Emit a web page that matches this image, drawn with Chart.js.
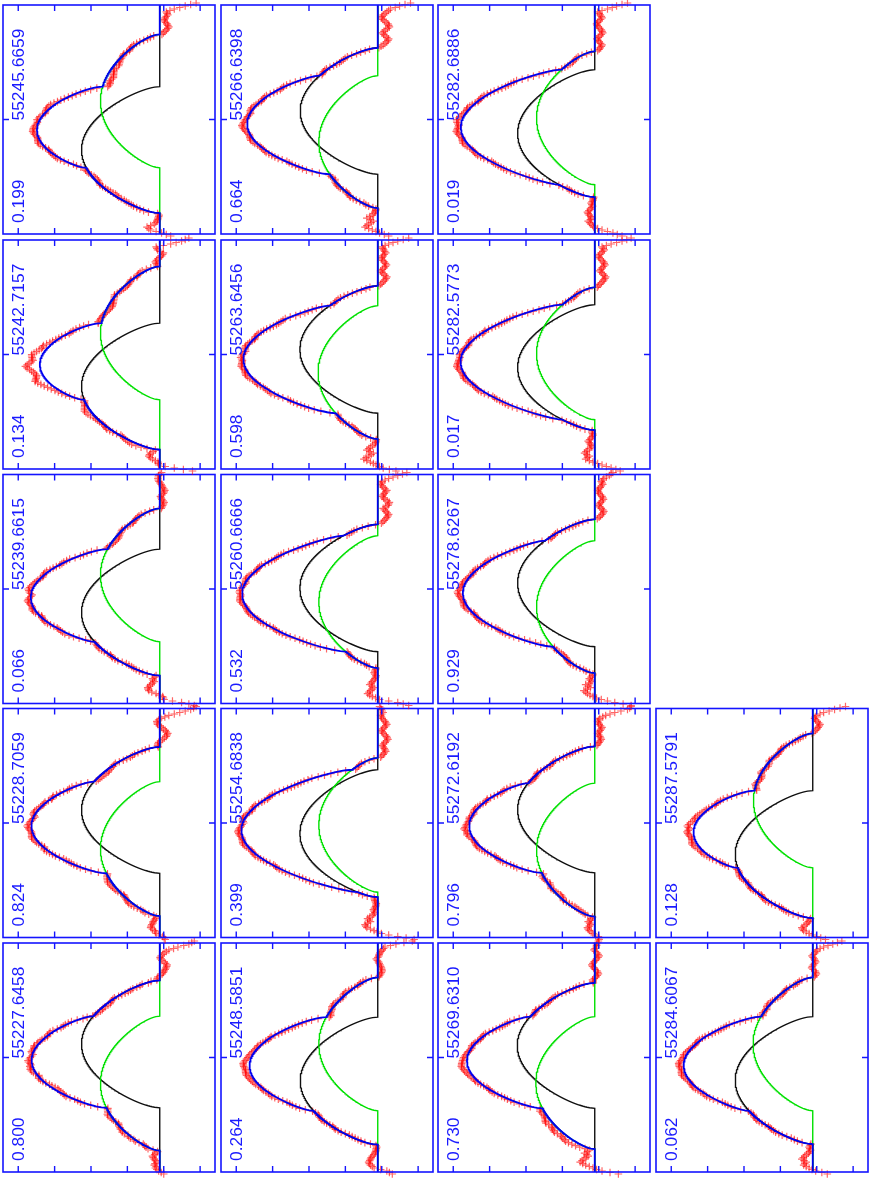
<!DOCTYPE html>
<html><head><meta charset="utf-8">
<script src="https://cdn.jsdelivr.net/npm/chart.js@4.4.0/dist/chart.umd.min.js"></script>
<style>
html,body{margin:0;padding:0;background:#fff;}
#wrap{position:relative;width:872px;height:1179px;overflow:hidden;background:#fff;}
canvas.pan{position:absolute;}
</style></head><body><div id="wrap"></div>
<script>
// ---- data (chronological order) ----
const phases = ["0.800","0.824","0.066","0.134","0.199","0.264","0.399","0.532","0.598","0.664","0.730","0.796","0.929","0.017","0.019","0.062","0.128"];
const dates = ["55227.6458","55228.7059","55239.6615","55242.7157","55245.6659","55248.5851","55254.6838","55260.6666","55263.6456","55266.6398","55269.6310","55272.6192","55278.6267","55282.5773","55282.6886","55284.6067","55287.5791"];
// primary (black) and secondary (green) component: centre velocity, half width (km/s), depth
const blackCenter = [27,26,-47,-64,-61,-47,-21,2,10,17,24,27,12,-26,-28,-46,-63];
const blackHalfWidth = [128,127,127,127,127,128,128,128,128,127,126,127,128,126,128,128,128];
const blackDepth = [0.215,0.215,0.215,0.215,0.215,0.213,0.214,0.214,0.214,0.213,0.213,0.212,0.212,0.212,0.212,0.213,0.213];
const greenCenter = [-52,-52,28,43,37,27,-4,-26,-36,-45,-51,-54,-36,2,3,27,45];
const greenHalfWidth = [135,135,134,134,134,134,135,133,134,133,133,134,133,133,134,134,135];
const greenDepth = [0.163,0.163,0.163,0.163,0.163,0.162,0.162,0.162,0.164,0.162,0.162,0.160,0.160,0.160,0.160,0.164,0.163];
const continuumLevel = 0.011;
const limbDarkening = 0.6;
// observed profile: velocity grid (km/s) and residuals from the fit (units of 0.001)
const obsVelocity = [-234,-231,-228,-225,-222,-219,-216,-213,-210,-207,-204,-201,-198,-195,-192,-189,-186,-183,-180,-177,-174,-171,-168,-165,-162,-159,-156,-153,-150,-147,-144,-141,-138,-135,-132,-129,-126,-123,-120,-117,-114,-111,-108,-105,-102,-99,-96,-93,-90,-87,-84,-81,-78,-75,-72,-69,-66,-63,-60,-57,-54,-51,-48,-45,-42,-39,-36,-33,-30,-27,-24,-21,-18,-15,-12,-9,-6,-3,0,3,6,9,12,15,18,21,24,27,30,33,36,39,42,45,48,51,54,57,60,63,66,69,72,75,78,81,84,87,90,93,96,99,102,105,108,111,114,117,120,123,126,129,132,135,138,141,144,147,150,153,156,159,162,165,168,171,174,177,180,183,186,189,192,195,198,201,204,207,210,213,216,219,222,225,228,231,234];
const obsResidual = [
[-11,-4,3,8,12,10,15,13,8,12,15,18,20,14,10,6,8,9,5,1,-3,2,6,4,8,7,4,9,10,5,6,3,2,-1,-4,0,3,5,6,9,8,4,2,0,-3,2,4,7,6,2,0,3,5,1,-4,-5,-8,-11,-10,-7,-6,-1,2,4,5,0,-3,3,6,9,10,7,8,4,5,9,10,6,4,1,-2,3,6,5,3,6,8,4,5,3,2,-1,-3,2,4,7,6,1,-2,0,3,4,5,0,-4,-1,2,-2,-4,-7,-8,-5,-6,-9,-10,-6,-3,0,2,-3,-5,-7,-8,-6,-4,-6,-5,0,-5,3,8,7,5,-2,-7,-10,-12,-15,-17,-19,-20,-16,-12,-6,-2,-1,-4,-8,-12,-18,-25,-38,-50,-66,-80,-88,-95],
[-15,-12,-8,2,10,12,14,20,25,24,22,19,18,15,12,9,6,7,8,5,4,7,10,11,12,9,6,4,2,-1,-3,1,5,7,8,9,10,11,12,10,8,6,4,1,-2,0,3,4,6,4,2,-1,-4,-5,-6,-2,2,3,5,7,8,2,-3,0,4,6,7,9,10,8,5,4,3,5,8,10,12,9,6,4,2,-1,-4,0,5,6,7,5,3,1,0,2,4,0,-3,1,6,4,2,0,-2,2,5,4,3,-1,-5,-7,-8,-9,-10,-11,-12,-9,-6,-5,-4,0,3,-1,-5,-7,-9,-6,-3,-3,-4,-1,2,4,6,5,3,-2,-8,-13,-18,-20,-22,-18,-15,-10,-5,1,6,7,8,3,-3,-14,-25,-40,-55,-70,-85,-93,-100],
[-95,-80,-60,-35,-12,-10,-8,2,10,22,30,32,33,28,25,20,15,18,20,14,10,8,6,4,2,-1,-4,-5,-6,-2,3,4,5,1,-2,1,4,6,8,6,5,3,2,0,-3,2,6,8,10,7,4,1,-2,0,3,5,6,4,2,-1,-4,0,5,7,8,5,3,4,6,8,10,7,4,0,-3,2,6,9,12,10,8,6,5,3,2,-1,-3,0,4,6,7,4,2,0,-2,0,3,4,5,0,-4,-1,2,4,6,4,3,-1,-5,-6,-8,-9,-10,-8,-6,-4,-3,0,2,-1,-4,-6,-8,-5,-3,0,2,4,5,2,-2,-3,-4,-6,-8,-10,-12,-9,-6,-4,-2,-6,-10,-12,-14,-11,-8,-6,-4,-1,2,4,5,4,3,-1,-5],
[-90,-65,-40,-15,3,4,5,12,20,26,30,28,25,18,12,14,15,17,18,14,10,7,4,0,-3,2,6,8,10,7,4,3,2,4,5,6,8,12,15,17,18,15,12,9,6,4,3,0,-2,1,4,6,8,10,12,16,20,24,28,32,35,30,25,21,18,20,22,26,30,36,40,35,30,24,20,23,25,28,30,26,22,18,15,16,18,14,10,8,5,3,2,-1,-4,0,3,5,6,7,8,9,10,7,5,3,2,0,-3,-5,-8,-10,-12,-11,-10,-8,-6,-4,-2,1,4,0,-3,-4,-6,-7,-8,-6,-4,-1,2,0,-3,1,6,8,10,7,5,6,8,10,12,9,5,0,-5,-8,-10,-2,6,8,10,-10,-30,-45,-60,-70,-80],
[-30,-18,-5,10,25,30,35,25,15,11,8,6,5,3,2,6,10,8,6,4,3,0,-2,-3,-5,-4,-4,-6,-8,-7,-6,-4,-3,0,2,-1,-4,-6,-7,-6,-5,-1,3,5,6,5,4,1,-2,2,5,7,8,6,4,3,2,0,-3,1,5,8,10,8,6,4,3,5,8,10,12,11,10,8,6,4,3,5,8,6,5,1,-2,1,4,7,10,11,12,9,6,4,2,-1,-3,-4,-6,-8,-10,-12,-14,-16,-18,-16,-15,-17,-20,-18,-16,-14,-12,-10,-8,-11,-14,-12,-10,-7,-5,-4,-3,0,2,-1,-4,0,3,5,6,4,2,-2,-5,-4,-3,-6,-10,-14,-18,-22,-25,-22,-20,-16,-12,-13,-15,-18,-22,-20,-18,-28,-40,-55,-70,-85,-100],
[-40,-32,-25,-8,10,15,20,23,25,22,20,18,15,11,8,6,5,4,3,5,6,4,2,-1,-3,-4,-5,-2,2,3,4,1,-2,0,3,4,5,3,2,-1,-3,0,4,5,6,4,3,0,-2,1,5,7,8,6,4,5,6,5,3,5,8,9,10,11,12,13,15,15,14,13,12,14,16,17,18,16,14,12,10,9,8,6,5,4,3,4,6,4,2,0,-2,0,3,-1,-4,-5,-6,-7,-8,-6,-5,-4,-3,-4,-6,-8,-10,-7,-4,-3,-2,1,4,5,6,4,2,-1,-3,1,5,7,8,5,3,0,-2,1,4,5,6,2,-3,-5,-8,-10,-12,-11,-10,-8,-6,-4,-2,1,4,0,-3,-4,-6,-9,-12,-16,-20,-35,-50,-72,-95],
[-100,-78,-55,-30,-10,2,10,20,30,33,35,28,20,24,28,22,15,11,8,10,12,9,6,5,4,6,8,9,10,8,6,4,2,-1,-3,0,4,5,7,5,3,0,-2,1,5,6,6,5,3,-1,-4,-1,2,3,5,6,8,6,4,2,1,3,6,8,9,7,5,4,3,5,7,8,10,8,6,4,2,0,-3,0,4,5,6,4,2,-1,-4,-1,3,4,5,1,-2,-3,-5,-2,2,3,4,0,-3,-5,-6,-5,-4,-1,2,3,5,1,-2,-4,-6,-7,-8,-6,-4,-1,2,0,-3,-5,-8,-11,-15,-18,-22,-20,-18,-15,-12,-16,-20,-24,-28,-26,-24,-20,-15,-12,-10,-14,-18,-22,-25,-22,-20,-16,-12,-10,-8,-11,-15,-12,-10,-8,-5],
[-85,-70,-55,-30,-5,6,15,22,28,24,20,15,10,16,22,18,15,11,8,6,5,8,10,8,6,5,4,1,-2,0,3,5,6,4,2,-1,-3,0,4,5,5,4,2,0,-2,0,3,5,6,5,4,0,-3,-1,2,4,5,4,3,5,6,7,8,6,5,3,2,4,6,8,10,8,7,5,4,6,8,7,6,4,3,0,-2,1,4,5,6,4,2,-1,-3,0,3,4,5,1,-2,-3,-4,-1,2,3,5,1,-3,-5,-6,-4,-2,0,3,0,-4,-6,-7,-5,-3,0,2,-2,-5,-8,-10,-14,-18,-22,-25,-28,-30,-26,-22,-18,-15,-22,-28,-30,-32,-26,-20,-16,-12,-15,-18,-22,-25,-20,-15,-12,-8,-10,-12,-20,-30,-42,-55,-68,-80],
[-50,-32,-15,-5,5,12,20,30,38,32,25,18,12,22,30,25,20,14,8,6,5,4,4,6,8,5,3,0,-2,-4,-5,-2,2,4,6,4,3,0,-3,1,5,7,8,6,4,3,2,0,-3,2,6,8,10,7,5,4,3,5,7,5,4,6,9,11,12,10,8,6,5,8,10,8,6,4,3,5,8,6,4,1,-2,0,3,5,6,4,2,-1,-4,-1,3,4,5,3,2,0,-3,-5,-6,-4,-2,1,4,0,-5,-7,-8,-5,-3,0,2,-1,-4,0,3,5,6,4,2,-2,-5,-7,-8,-5,-3,-8,-12,-16,-20,-23,-25,-20,-15,-11,-8,-13,-18,-21,-24,-21,-18,-14,-10,-12,-14,-18,-22,-19,-16,-14,-12,-20,-30,-42,-55,-70,-85],
[-30,-18,-5,5,15,25,35,30,25,18,12,20,30,22,15,11,8,6,5,3,2,0,-3,1,4,6,8,5,3,0,-2,2,5,6,6,4,3,0,-4,-1,2,4,6,8,9,7,5,3,2,0,-3,1,4,5,6,7,8,6,4,3,2,4,7,8,10,8,6,4,3,5,8,10,12,14,15,12,10,8,6,4,3,0,-2,1,4,5,6,4,2,0,-3,0,2,4,5,1,-2,-4,-5,-1,3,4,4,0,-3,-5,-6,-5,-4,-1,2,4,5,1,-3,-5,-6,-4,-2,1,3,0,-4,-5,-6,-4,-3,-9,-15,-20,-25,-28,-30,-25,-20,-16,-12,-17,-22,-27,-32,-30,-28,-23,-18,-14,-10,-12,-15,-20,-25,-30,-35,-48,-60,-75,-90],
[-65,-42,-20,-5,5,15,25,33,40,35,30,24,18,22,28,20,15,16,18,20,22,24,25,22,20,18,15,19,22,20,18,15,12,16,20,18,15,12,10,9,8,10,12,9,6,5,4,6,8,6,5,3,2,4,6,4,3,0,-2,1,4,6,8,6,5,8,10,11,12,14,15,17,18,16,15,13,12,11,10,8,6,4,3,0,-2,1,4,3,2,-1,-3,0,2,4,5,1,-2,-4,-6,-5,-3,0,4,3,2,-2,-5,-4,-2,1,4,0,-3,-5,-6,-4,-2,1,3,4,5,1,-2,-3,-4,-1,2,3,4,5,6,1,-4,-7,-10,-8,-6,-1,3,6,8,5,2,-2,-5,-9,-12,-9,-6,-2,2,-1,-4,-5,-5,-8,-10],
[-12,-11,-10,-2,5,10,15,18,20,15,10,14,18,12,8,6,4,0,-3,-5,-6,-7,-8,-6,-4,-1,2,-2,-5,-7,-8,-5,-3,0,3,0,-2,-4,-6,-2,2,4,5,1,-3,0,4,6,8,5,3,5,6,4,2,-1,-4,0,3,5,7,9,10,8,6,4,2,4,5,9,12,10,8,12,15,12,10,8,6,4,3,4,5,1,-2,1,4,5,6,4,2,-1,-3,0,4,1,-2,-4,-5,-1,3,5,6,4,2,-1,-3,-5,-6,-4,-2,1,4,0,-4,-6,-8,-5,-3,0,2,-2,-5,-6,-6,-4,-2,0,3,-2,-6,-9,-12,-15,-18,-16,-14,-11,-8,-12,-15,-18,-20,-16,-12,-10,-8,-11,-14,-22,-30,-42,-55,-72,-90,-96,-100],
[-100,-78,-55,-35,-18,-5,5,13,20,25,30,20,12,18,25,15,8,12,15,10,6,5,4,1,-2,0,3,5,6,4,2,-1,-4,-5,-6,-5,-3,0,2,-2,-5,-7,-8,-6,-4,0,3,5,6,4,2,-1,-3,1,4,6,8,7,5,4,3,0,-2,2,6,8,10,8,7,5,4,6,8,10,12,14,15,12,10,8,6,7,8,6,4,3,2,-1,-3,1,5,4,3,0,-2,1,4,5,6,4,2,-1,-3,-5,-6,-4,-2,1,3,0,-4,-6,-7,-5,-3,0,2,-2,-5,-7,-8,-6,-4,-3,-2,-7,-12,-16,-20,-23,-25,-22,-18,-14,-10,-13,-16,-20,-24,-22,-20,-16,-12,-10,-8,-11,-15,-18,-22,-20,-18,-22,-25,-32,-40,-45,-50],
[-70,-58,-45,-32,-20,-8,5,15,25,20,15,22,28,24,20,14,8,10,12,15,18,14,10,7,5,6,8,7,6,4,2,-1,-3,0,4,6,7,5,3,0,-2,2,5,7,8,6,4,3,2,0,-3,2,6,8,9,7,5,4,3,5,7,9,10,8,6,5,4,7,9,11,12,10,8,6,5,4,3,5,7,5,4,3,2,-1,-3,0,4,5,6,4,2,-1,-4,-1,3,0,-2,-4,-5,-4,-3,0,2,4,5,1,-2,-4,-6,-5,-3,0,2,-1,-4,-6,-7,-4,-2,1,3,0,-4,-7,-10,-14,-18,-22,-25,-28,-30,-26,-22,-18,-14,-17,-20,-24,-28,-26,-24,-20,-15,-12,-10,-14,-18,-22,-26,-23,-20,-32,-45,-60,-75,-88,-100],
[-75,-62,-50,-35,-20,-8,3,6,10,14,18,12,8,11,15,18,20,16,12,9,6,8,10,7,5,4,3,5,6,4,2,-1,-4,0,3,5,7,6,4,1,-2,2,5,7,8,6,4,3,2,0,-3,1,5,7,9,8,6,4,3,5,8,10,12,10,8,6,5,8,10,12,14,11,9,7,6,9,12,14,15,12,10,8,6,4,3,6,8,6,4,1,-2,1,3,5,6,4,2,0,-3,-5,-6,-4,-2,1,4,0,-4,-6,-8,-5,-3,0,2,-2,-5,-6,-7,-4,-2,1,3,0,-4,-6,-8,-12,-15,-18,-20,-16,-12,-9,-6,-10,-14,-18,-22,-20,-18,-14,-10,-7,-5,-8,-12,-16,-20,-18,-15,-12,-8,-20,-35,-48,-60,-75,-90],
[-40,-25,-8,2,10,18,25,22,18,24,30,26,22,17,12,9,6,8,10,7,5,3,2,-1,-3,0,4,5,6,4,3,0,-2,1,4,6,7,5,4,1,-2,0,3,5,6,4,2,-1,-3,1,5,7,8,6,4,5,6,8,9,7,5,4,3,5,8,10,12,11,10,8,7,10,12,13,14,12,10,8,6,7,8,6,4,3,2,0,-2,0,3,4,5,3,2,-1,-4,-5,-6,-4,-3,0,2,-1,-5,-7,-8,-6,-4,-1,2,0,-3,0,3,5,6,4,2,-1,-4,-6,-7,-5,-3,0,2,-1,-5,-3,-2,1,3,0,-4,-7,-10,-8,-6,-1,3,1,-2,-5,-8,-6,-4,-1,2,-2,-6,-9,-12,-20,-30,-42,-55,-68,-80],
[-35,-22,-10,2,10,18,25,28,30,24,18,15,12,9,6,5,4,6,8,5,3,0,-2,2,5,7,8,6,4,0,-3,-1,2,4,6,4,3,0,-2,1,4,6,8,6,5,3,2,4,6,5,3,0,-2,1,4,6,7,9,10,8,6,9,12,14,15,12,10,9,8,11,14,16,18,15,12,16,20,18,15,12,10,11,12,10,8,6,5,4,3,0,-2,1,4,5,6,4,2,-1,-3,-5,-6,-4,-2,0,3,0,-4,-6,-8,-6,-5,-1,2,0,-3,-5,-7,-5,-4,0,3,0,-2,-4,-5,-3,-2,1,4,3,2,-1,-4,-5,-6,-4,-3,0,2,-3,-8,-12,-15,-18,-20,-16,-12,-8,-5,-7,-10,-20,-30,-45,-60,-75,-90]
];
const intensityTicks = [-0.1,0,0.1,0.2,0.3,0.4];
const velocityTicks = [0];

// ---- layout ----
const colLeft = [3, 221, 438, 656];
const rowTop = [5, 240, 474.5, 708.5, 943];
const boxW = 212, boxH = 229;
const M = 18;
const X_MIN = -0.1409, X_MAX = 0.4419, V_MIN = -230, V_MAX = 230;

function rotProfile(v, c, w, d) {
  const x = (v - c) / w;
  if (Math.abs(x) >= 1) return 0;
  const s = 1 - x * x, e = limbDarkening;
  return d * (2 * (1 - e) * Math.sqrt(s) + Math.PI * e / 2 * s) / (2 * (1 - e) + Math.PI * e / 2);
}

const framePlugin = {
  id: 'frame',
  afterDatasetsDraw(chart) {
    const ctx = chart.ctx, a = chart.chartArea;
    const xs = chart.scales.x, ys = chart.scales.y;
    const k = chart.options.plugins.frame.idx;
    ctx.save();
    ctx.strokeStyle = '#1414ff';
    ctx.lineWidth = 1.6;
    ctx.strokeRect(a.left, a.top, a.right - a.left, a.bottom - a.top);
    ctx.lineWidth = 1.4;
    ctx.beginPath();
    intensityTicks.forEach(t => {
      const px = xs.getPixelForValue(t);
      ctx.moveTo(px, a.top); ctx.lineTo(px, a.top + 6);
      ctx.moveTo(px, a.bottom); ctx.lineTo(px, a.bottom - 6);
    });
    velocityTicks.forEach(t => {
      const py = ys.getPixelForValue(t);
      ctx.moveTo(a.left, py); ctx.lineTo(a.left + 6, py);
      ctx.moveTo(a.right, py); ctx.lineTo(a.right - 6, py);
    });
    ctx.stroke();
    ctx.fillStyle = '#1a1aff';
    ctx.font = '17.4px "Liberation Sans", Arial, sans-serif';
    ctx.textAlign = 'left';
    ctx.textBaseline = 'alphabetic';
    ctx.save();
    ctx.translate(a.left + 20.5, a.bottom - 11);
    ctx.rotate(-Math.PI / 2);
    ctx.fillText(phases[k], 0, 0);
    ctx.restore();
    ctx.save();
    ctx.translate(a.left + 20.5, ys.getPixelForValue(0) + 1);
    ctx.rotate(-Math.PI / 2);
    ctx.fillText(dates[k], 0, 0);
    ctx.restore();
    ctx.restore();
  }
};

const wrap = document.getElementById('wrap');
for (let k = 0; k < phases.length; k++) {
  const col = Math.floor(k / 5), row = 4 - (k % 5);
  const cv = document.createElement('canvas');
  cv.className = 'pan';
  cv.width = boxW + 2 * M; cv.height = boxH + 2 * M;
  cv.style.width = cv.width + 'px'; cv.style.height = cv.height + 'px';
  const left = colLeft[col] - M, top = rowTop[row] - M;
  cv.style.left = Math.floor(left) + 'px';
  cv.style.top = Math.floor(top) + 'px';
  const padL = M + (left - Math.floor(left)), padT = M + (top - Math.floor(top));
  wrap.appendChild(cv);

  const bk = v => rotProfile(v, blackCenter[k], blackHalfWidth[k], blackDepth[k]);
  const gr = v => rotProfile(v, greenCenter[k], greenHalfWidth[k], greenDepth[k]);
  const model = v => continuumLevel + bk(v) + gr(v);
  const blue = [], black = [], green = [];
  for (let v = V_MIN; v <= V_MAX; v += 1) {
    blue.push({x: model(v), y: v});
    black.push({x: continuumLevel + bk(v), y: v});
    green.push({x: continuumLevel + gr(v), y: v});
  }
  const res = obsResidual[k];
  const red = [];
  for (let i = 0; i < Math.min(res.length, obsVelocity.length); i++) {
    red.push({x: model(obsVelocity[i]) + res[i] / 1000, y: obsVelocity[i]});
  }
  new Chart(cv, {
    type: 'scatter',
    data: {datasets: [
      {data: blue, showLine: true, borderColor: '#0000f0', borderWidth: 1.8, pointRadius: 0, tension: 0},
      {data: green, showLine: true, borderColor: '#00e000', borderWidth: 1.4, pointRadius: 0, tension: 0},
      {data: black, showLine: true, borderColor: '#101010', borderWidth: 1.4, pointRadius: 0, tension: 0},
      {data: red, showLine: false, pointStyle: 'cross', pointRadius: 3.8, pointBorderWidth: 1.2,
       pointBorderColor: 'rgba(255,0,0,0.6)', pointBackgroundColor: 'rgba(255,0,0,0.6)', clip: false}
    ]},
    options: {
      responsive: false, maintainAspectRatio: false, animation: false, events: [],
      layout: {padding: {left: padL, top: padT, right: 2 * M - padL, bottom: 2 * M - padT}},
      scales: {
        x: {type: 'linear', reverse: true, min: X_MIN, max: X_MAX, display: false},
        y: {type: 'linear', min: V_MIN, max: V_MAX, display: false}
      },
      plugins: {legend: {display: false}, tooltip: {enabled: false}, frame: {idx: k}}
    },
    plugins: [framePlugin]
  });
}
</script>
</body></html>
